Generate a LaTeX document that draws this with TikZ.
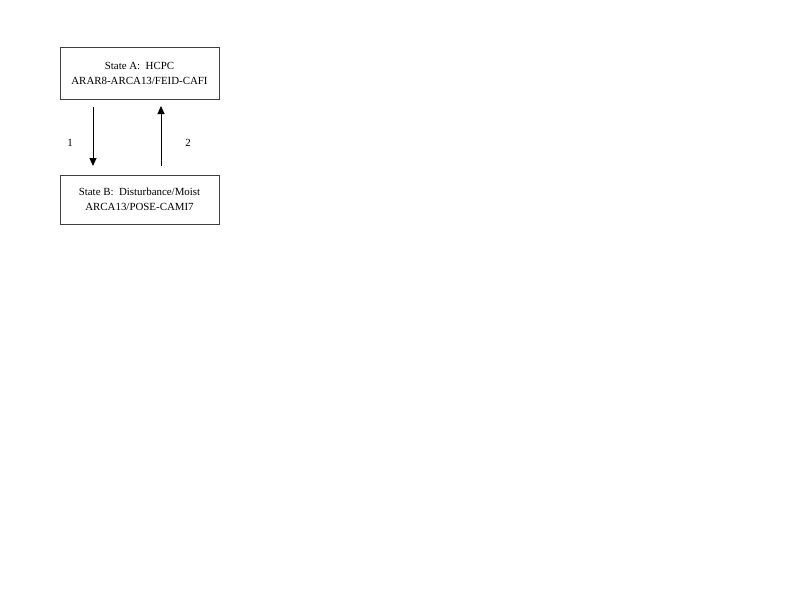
\documentclass[tikz,border=0pt]{standalone}
\usepackage{fontspec}
\setmainfont{Liberation Serif}
\usetikzlibrary{arrows.meta}
\begin{document}
\begin{tikzpicture}[x=1pt,y=-1pt,
  statebox/.style={draw=black!75,line width=0.9pt,minimum width=159pt,align=center,inner sep=0pt,font=\fontsize{10.9}{15}\selectfont},
  trans/.style={line width=0.9pt,-{Triangle[width=7pt,length=8pt]}},
  lbl/.style={font=\fontsize{10.9}{12}\selectfont}]
\useasboundingbox (0,0) rectangle (800,600);
\node[statebox,minimum height=52pt] (A) at (139.5,73) {State A:\ \ HCPC\\ARAR8-ARCA13/FEID-CAFI};
\node[statebox,minimum height=49pt] (B) at (139.5,199.5) {State B:\ \ Disturbance/Moist\\ARCA13/POSE-CAMI7};
\coordinate (a1) at (93,107);
\coordinate (b1) at (93,166);
\coordinate (b2) at (161,166);
\coordinate (a2) at (161,106);
\draw[trans] (a1) -- (b1);
\draw[trans] (b2) -- (a2);
\node[lbl] (l1) at (70,143) {1};
\node[lbl] (l2) at (188,143) {2};
\end{tikzpicture}
\end{document}
